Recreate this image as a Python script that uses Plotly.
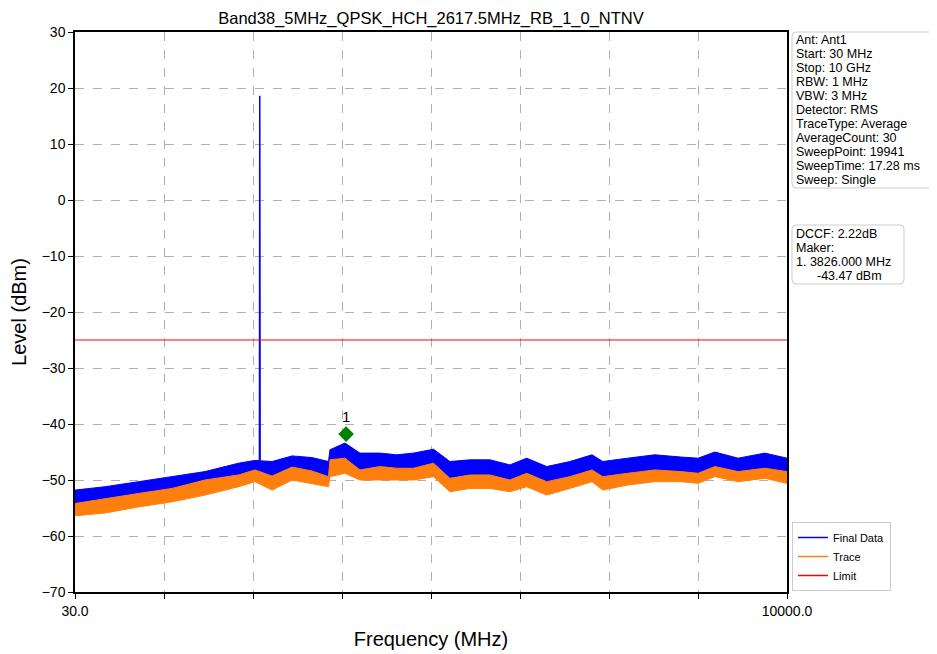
import plotly.graph_objects as go

# ---------------- data ----------------
freq_mhz = [30, 450, 920, 1390, 1850, 2320, 2550, 2790, 3070, 3350, 3580, 3600,
            3810, 4020, 4300, 4535, 4770, 5050, 5280, 5560, 5840, 6120, 6355,
            6635, 6960, 7270, 7420, 7770, 8150, 8515, 8755, 8990, 9315, 9690, 10000]
final_hi = [-51.8, -51.2, -50.3, -49.4, -48.5, -47.0, -46.5, -46.7, -45.7, -46.0, -46.7, -44.6,
            -43.4, -45.2, -45.2, -45.5, -45.2, -44.5, -46.7, -46.4, -46.4, -47.3, -46.1,
            -47.6, -46.7, -45.5, -46.7, -46.1, -45.5, -45.9, -46.1, -45.0, -46.1, -45.2, -46.1]
final_lo = [-55.2, -54.3, -53.4, -52.5, -51.0, -50.1, -49.2, -50.3, -48.7, -49.4, -50.4, -47.4,
            -47.1, -49.2, -48.6, -48.9, -48.9, -48.0, -50.7, -50.1, -50.1, -51.0, -49.8,
            -51.3, -50.4, -49.2, -50.4, -49.8, -49.2, -49.5, -49.8, -48.6, -49.5, -48.9, -49.5]
trace_hi = [-54.2, -53.3, -52.4, -51.5, -50.0, -49.1, -48.2, -49.3, -47.7, -48.4, -49.4, -46.4,
            -46.1, -48.2, -47.6, -47.9, -47.9, -47.0, -49.7, -49.1, -49.1, -50.0, -48.8,
            -50.3, -49.4, -48.2, -49.4, -48.8, -48.2, -48.5, -48.8, -47.6, -48.5, -47.9, -48.5]
trace_lo = [-56.4, -55.9, -54.8, -53.9, -52.7, -51.2, -50.3, -51.8, -50.0, -50.6, -51.2, -49.4,
            -48.8, -50.0, -49.9, -50.0, -50.0, -49.4, -52.1, -51.5, -51.5, -52.1, -51.2,
            -52.7, -51.5, -50.3, -51.8, -50.9, -50.3, -50.3, -50.6, -49.4, -50.3, -49.7, -50.6]

spike_freq = [2612.5, 2617.5, 2622.5]
spike_level = [-46.5, 18.6, -46.5]

limit_freq = [30, 10000]
limit_level = [-25, -25]

marker_freq = [3826.0]
marker_level = [-41.8]
marker_label = ["1"]

x_tick_vals = [30, 1276.25, 2522.5, 3768.75, 5015, 6261.25, 7507.5, 8753.75, 10000]
x_tick_text = ["30.0", "", "", "", "", "", "", "", "10000.0"]
y_tick_vals = [30, 20, 10, 0, -10, -20, -30, -40, -50, -60, -70]

title_text = "Band38_5MHz_QPSK_HCH_2617.5MHz_RB_1_0_NTNV"
info_lines = ["Ant: Ant1", "Start: 30 MHz", "Stop: 10 GHz", "RBW: 1 MHz", "VBW: 3 MHz",
              "Detector: RMS", "TraceType: Average", "AverageCount: 30",
              "SweepPoint: 19941", "SweepTime: 17.28 ms", "Sweep: Single"]
marker_lines = ["DCCF: 2.22dB", "Maker:", "1. 3826.000 MHz", "-43.47 dBm"]

# ---------------- layout constants ----------------
OFF = 8                      # page body margin
W, H = 937 - OFF, 654 - OFF
L, T = 75 - OFF, 32 - OFF
PW, PH = 712, 560
R, B = W - L - PW, H - T - PH
FONT = "Arial, Liberation Sans, sans-serif"
INFO_SIZE, INFO_STEP = 12.5, 14.0


def px_x(px):
    # reference-screen pixel -> paper x
    return (px - OFF - L) / PW


def px_y(py):
    return (T + PH - (py - OFF)) / PH


def rounded_rect(x0, y0, x1, y1, r=4):
    X, Y = px_x, px_y
    return (f"M {X(x0 + r)} {Y(y0)} L {X(x1 - r)} {Y(y0)} Q {X(x1)} {Y(y0)} {X(x1)} {Y(y0 + r)} "
            f"L {X(x1)} {Y(y1 - r)} Q {X(x1)} {Y(y1)} {X(x1 - r)} {Y(y1)} "
            f"L {X(x0 + r)} {Y(y1)} Q {X(x0)} {Y(y1)} {X(x0)} {Y(y1 - r)} "
            f"L {X(x0)} {Y(y0 + r)} Q {X(x0)} {Y(y0)} {X(x0 + r)} {Y(y0)} Z")


fig = go.Figure()

BLUE, ORANGE, RED, GREEN = "#0000ff", "#ff7f0e", "#ff0000", "#008000"

fig.add_trace(go.Scatter(
    x=freq_mhz + freq_mhz[::-1], y=final_hi + final_lo[::-1],
    fill="toself", fillcolor=BLUE, line=dict(color=BLUE, width=1),
    mode="lines", showlegend=False, hoverinfo="skip"))
fig.add_trace(go.Scatter(
    x=spike_freq, y=spike_level, mode="lines",
    line=dict(color=BLUE, width=1.5), showlegend=False, hoverinfo="skip"))
fig.add_trace(go.Scatter(
    x=freq_mhz + freq_mhz[::-1], y=trace_hi + trace_lo[::-1],
    fill="toself", fillcolor=ORANGE, line=dict(color=ORANGE, width=1),
    mode="lines", showlegend=False, hoverinfo="skip"))
fig.add_trace(go.Scatter(
    x=limit_freq, y=limit_level, mode="lines", line=dict(color=RED, width=1.2),
    showlegend=False))
fig.add_trace(go.Scatter(
    x=marker_freq, y=marker_level, mode="markers+text", text=marker_label,
    textposition="top center", textfont=dict(family=FONT, size=15, color="black"),
    marker=dict(symbol="diamond", size=12, color=GREEN), showlegend=False))

for name, col in [("Final Data", BLUE), ("Trace", ORANGE), ("Limit", RED)]:
    fig.add_trace(go.Scatter(x=[None], y=[None], mode="lines", name=name,
                             line=dict(color=col, width=1.5)))

info_top, marker_top = 40.0, 234.0
shapes = [
    dict(type="path", xref="paper", yref="paper",
         path=rounded_rect(792, 32, 933, info_top + INFO_STEP * (len(info_lines) - 1) + 8),
         line=dict(color="#cccccc", width=1), fillcolor="white", layer="above"),
    dict(type="path", xref="paper", yref="paper",
         path=rounded_rect(792, 225, 904, marker_top + INFO_STEP * (len(marker_lines) - 1) + 8),
         line=dict(color="#cccccc", width=1), fillcolor="white", layer="above"),
]

annotations = []
for i, line in enumerate(info_lines):
    annotations.append(dict(text=line, xref="paper", yref="paper", x=px_x(794),
                            y=px_y(info_top + INFO_STEP * i), xanchor="left", yanchor="middle",
                            showarrow=False, font=dict(family=FONT, size=INFO_SIZE, color="black")))
marker_x = [794, 794, 794, 815]
for i, line in enumerate(marker_lines):
    annotations.append(dict(text=line, xref="paper", yref="paper", x=px_x(marker_x[i]),
                            y=px_y(marker_top + INFO_STEP * i), xanchor="left", yanchor="middle",
                            showarrow=False, font=dict(family=FONT, size=INFO_SIZE, color="black")))

fig.update_layout(
    width=W, height=H,
    margin=dict(l=L, r=R, t=T, b=B, autoexpand=False),
    paper_bgcolor="white", plot_bgcolor="white",
    font=dict(family=FONT, color="black"),
    title=dict(text=title_text, x=(L + PW / 2) / W, xanchor="center",
               y=1 - 10.5 / H, yref="container", yanchor="middle",
               font=dict(family=FONT, size=16.5)),
    shapes=shapes, annotations=annotations,
    legend=dict(x=px_x(792), y=px_y(591), xanchor="left", yanchor="bottom",
                bordercolor="#cccccc", borderwidth=1, bgcolor="white",
                font=dict(family=FONT, size=11), tracegroupgap=0),
    showlegend=True,
)
fig.update_xaxes(
    range=[30, 10000], tickmode="array", tickvals=x_tick_vals, ticktext=x_tick_text,
    showgrid=True, gridcolor="#b0b0b0", griddash="dash", gridwidth=0.8,
    showline=True, linecolor="black", linewidth=1.5, mirror=True,
    ticks="outside", ticklen=5, tickcolor="black", tickfont=dict(size=14),
    zeroline=False, automargin=False,
    title=dict(text="Frequency (MHz)", font=dict(size=20), standoff=14))
fig.update_yaxes(
    range=[-70, 30], tickmode="array", tickvals=y_tick_vals,
    showgrid=True, gridcolor="#b0b0b0", griddash="dash", gridwidth=0.8,
    showline=True, linecolor="black", linewidth=1.5, mirror=True,
    ticks="outside", ticklen=5, tickcolor="black", tickfont=dict(size=14),
    zeroline=False, automargin=False,
    title=dict(text="Level (dBm)", font=dict(size=20), standoff=10))

fig.write_html("out.html")
